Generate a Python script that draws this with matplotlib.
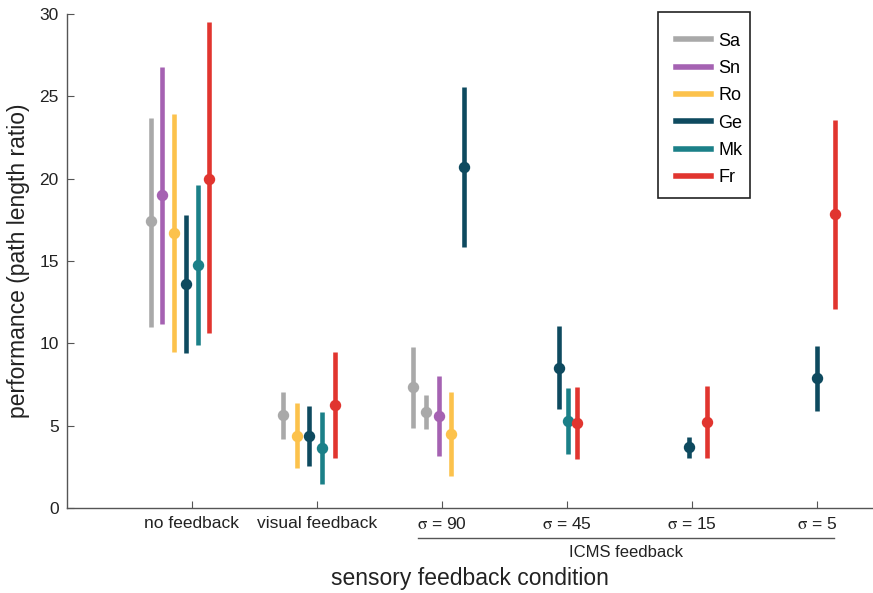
import numpy as np
import matplotlib.pyplot as plt
from matplotlib.lines import Line2D
from matplotlib.patches import Rectangle
import matplotlib.transforms as mtransforms

plt.rcParams['font.family'] = ['Liberation Sans', 'DejaVu Sans']
plt.rcParams['mathtext.fontset'] = 'stix'

# conditions / subjects
conditions = ['no feedback', 'visual feedback', r'$\mathrm{\sigma}$ = 90',
              r'$\mathrm{\sigma}$ = 45', r'$\mathrm{\sigma}$ = 15', r'$\mathrm{\sigma}$ = 5']
subjects = ['Sa', 'Sn', 'Ro', 'Ge', 'Mk', 'Fr']
colors = {'Sa': '#a9a9a9', 'Sn': '#a562b2', 'Ro': '#fcc24c',
          'Ge': '#0e4a5f', 'Mk': '#1b8088', 'Fr': '#e1352f'}

# one entry per bar (condition index, subject, mean, lower, upper)
bar_cond = [0, 0, 0, 0, 0, 0,
            1, 1, 1, 1, 1,
            2, 2, 2, 2, 2,
            3, 3, 3,
            4, 4,
            5, 5]
bar_subj = ['Sa', 'Sn', 'Ro', 'Ge', 'Mk', 'Fr',
            'Sa', 'Ro', 'Ge', 'Mk', 'Fr',
            'Sa', 'Sa', 'Sn', 'Ro', 'Ge',
            'Ge', 'Mk', 'Fr',
            'Ge', 'Fr',
            'Ge', 'Fr']
bar_mean = [17.4, 19.0, 16.7, 13.6, 14.75, 20.0,
            5.65, 4.4, 4.35, 3.65, 6.25,
            7.35, 5.85, 5.6, 4.5, 20.7,
            8.5, 5.3, 5.15,
            3.7, 5.22,
            7.9, 17.85]
bar_lo = [11.0, 11.2, 9.45, 9.4, 9.9, 10.6,
          4.2, 2.45, 2.55, 1.45, 3.05,
          4.85, 4.8, 3.15, 1.95, 15.85,
          6.0, 3.3, 3.0,
          3.05, 3.05,
          5.9, 12.1]
bar_hi = [23.7, 26.8, 23.9, 17.8, 19.6, 29.5,
          7.05, 6.4, 6.2, 5.8, 9.5,
          9.8, 6.85, 8.0, 7.05, 25.55,
          11.05, 7.3, 7.35,
          4.3, 7.4,
          9.85, 23.55]

# horizontal offset of each bar from its condition tick
bar_offset = [-0.33, -0.24, -0.145, -0.05, 0.045, 0.14,
              -0.27, -0.16, -0.065, 0.04, 0.145,
              -0.23, -0.13, -0.025, 0.07, 0.175,
              -0.065, 0.01, 0.08,
              -0.025, 0.12,
              0.0, 0.145]

fig = plt.figure(figsize=(8.73, 5.93), dpi=100)
ax = fig.add_axes([67 / 873, 1 - 508 / 593, 806 / 873, 494 / 593])

for c, s, m, lo, hi, off in zip(bar_cond, bar_subj, bar_mean, bar_lo, bar_hi, bar_offset):
    x = c + 1 + off
    ax.plot([x, x], [lo, hi], color=colors[s], lw=3.3, solid_capstyle='butt', zorder=2)
    ax.plot(x, m, 'o', color=colors[s], ms=7.2, zorder=3)

ax.set_xlim(0, 6.45)
ax.set_ylim(0, 30)
ax.set_xticks(np.arange(1, 7))
ax.set_xticklabels(conditions)
ax.set_yticks(np.arange(0, 31, 5))

for sp in ['top', 'right']:
    ax.spines[sp].set_visible(False)
for sp in ['left', 'bottom']:
    ax.spines[sp].set_color('#555555')
    ax.spines[sp].set_linewidth(1.0)
ax.tick_params(direction='in', length=5, color='#555555', labelsize=12.5,
               labelcolor='#222222', pad=6)

ax.set_ylabel('performance (path length ratio)', fontsize=16.5, color='#222222')
ax.yaxis.set_label_coords(-0.046, 0.5)
ax.set_xlabel('sensory feedback condition', fontsize=16.5, color='#222222')
ax.xaxis.set_label_coords(0.5, -0.12)

# ICMS bracket
trans = mtransforms.blended_transform_factory(ax.transData, ax.transAxes)
ax.add_line(Line2D([2.81, 6.14], [-0.061, -0.061], transform=trans, color='#555555',
                   lw=1.0, clip_on=False))
ax.text(4.475, -0.09, 'ICMS feedback', transform=trans, ha='center', va='center',
        fontsize=12, color='#222222')

# legend
handles = [Line2D([], [], color=colors[s], lw=4) for s in subjects]
ax.add_patch(Rectangle((0.733, 0.628), 0.114, 0.376, transform=ax.transAxes,
                       fill=False, edgecolor='#222222', lw=1.2, clip_on=False, zorder=5))
ax.legend(handles, subjects, loc='upper left', bbox_to_anchor=(0.7556, 0.962),
          frameon=False, fontsize=13, handlelength=1.95, handletextpad=0.4,
          labelspacing=0.57, borderpad=0, borderaxespad=0)

fig.savefig('out.png', dpi=100)
